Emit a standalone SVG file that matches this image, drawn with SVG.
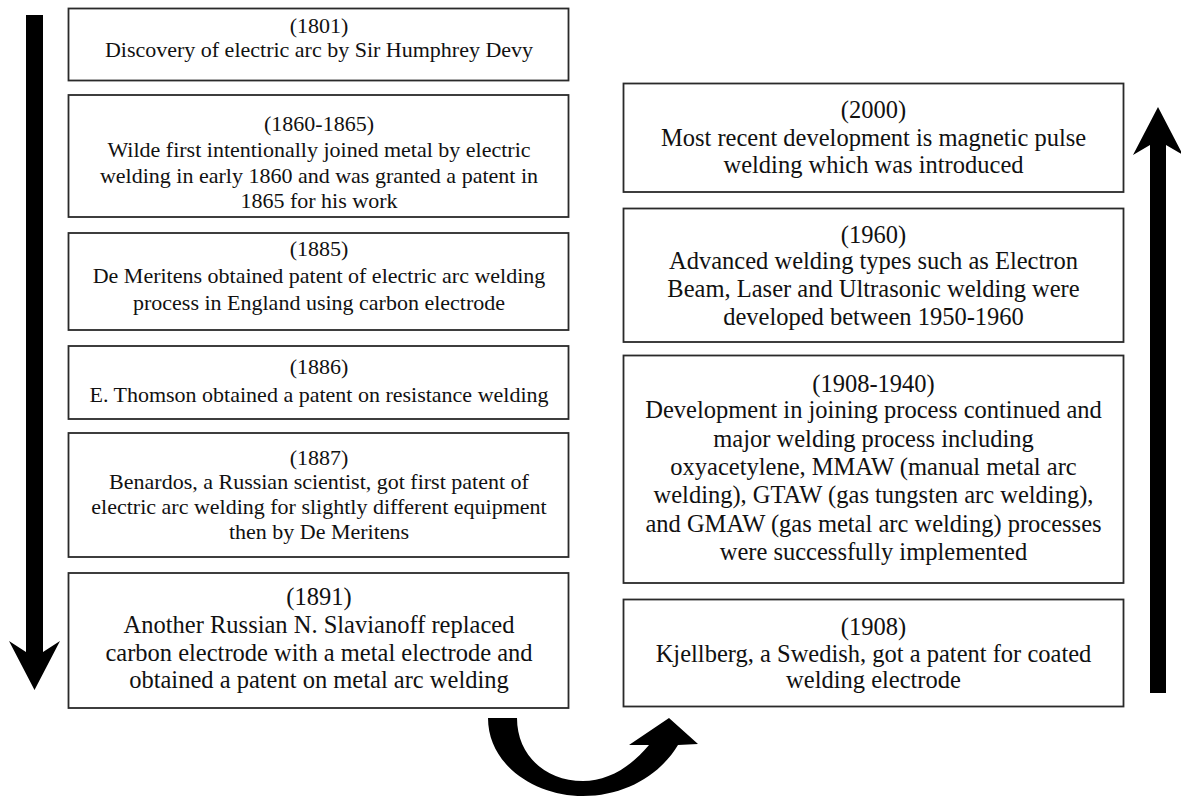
<svg xmlns="http://www.w3.org/2000/svg" width="1181" height="796" viewBox="0 0 1181 796">
<style>
.box{fill:#fff;stroke:#2a2a2a;stroke-width:1.8}
.t{font-family:'Liberation Serif','Times New Roman',Times,'DejaVu Serif',serif;fill:#111;text-anchor:middle}
.s{font-size:22px}
.b{font-size:24.5px}
.arr{fill:#000}
</style>
<rect width="1181" height="796" fill="#fff"/>
<g id="connectors">
<polygon class="arr" points="26,15 43,15 43,652 60,641 34.5,690 9,641 26,652"/>
<polygon class="arr" points="1150,693 1166,693 1166,145 1183,155 1158,107 1133,155 1150,145"/>
<path class="arr" d="M488,718 C488,765 535,796 583,796 C625,796 660,775 678,745 L698,744 L669,718 L629,745 L649,745 C630,768 607,781 583,781 C545,781 517,755 517,718 Z"/>
</g>
<g id="node-1801">
<rect class="box" x="68.5" y="8.5" width="500" height="72"/>
<text class="t s" font-family="Liberation Serif, serif"><tspan x="319" y="32.5">(1801)</tspan><tspan x="319" y="56.5">Discovery of electric arc by Sir Humphrey Devy</tspan></text>
</g>
<g id="node-1860">
<rect class="box" x="68.5" y="95" width="500" height="122"/>
<text class="t s"><tspan x="319" y="131">(1860-1865)</tspan><tspan x="319" y="157">Wilde first intentionally joined metal by electric</tspan><tspan x="319" y="183">welding in early 1860 and was granted a patent in</tspan><tspan x="319" y="208">1865 for his work</tspan></text>
</g>
<g id="node-1885">
<rect class="box" x="68.5" y="233" width="500" height="97"/>
<text class="t s"><tspan x="319" y="256">(1885)</tspan><tspan x="319" y="283">De Meritens obtained patent of electric arc welding</tspan><tspan x="319" y="310">process in England using carbon electrode</tspan></text>
</g>
<g id="node-1886">
<rect class="box" x="68.5" y="346" width="500" height="73"/>
<text class="t s"><tspan x="319" y="374">(1886)</tspan><tspan x="319" y="402">E. Thomson obtained a patent on resistance welding</tspan></text>
</g>
<g id="node-1887">
<rect class="box" x="68.5" y="433" width="500" height="124"/>
<text class="t s"><tspan x="319" y="465">(1887)</tspan><tspan x="319" y="489">Benardos, a Russian scientist, got first patent of</tspan><tspan x="319" y="514">electric arc welding for slightly different equipment</tspan><tspan x="319" y="539">then by De Meritens</tspan></text>
</g>
<g id="node-1891">
<rect class="box" x="68.5" y="573" width="500" height="135"/>
<text class="t b"><tspan x="319" y="605">(1891)</tspan><tspan x="319" y="633">Another Russian N. Slavianoff replaced</tspan><tspan x="319" y="661">carbon electrode with a metal electrode and</tspan><tspan x="319" y="688">obtained a patent on metal arc welding</tspan></text>
</g>
<g id="node-2000">
<rect class="box" x="623.5" y="83.5" width="500" height="108.5"/>
<text class="t b"><tspan x="873.5" y="118">(2000)</tspan><tspan x="873.5" y="146">Most recent development is magnetic pulse</tspan><tspan x="873.5" y="173">welding which was introduced</tspan></text>
</g>
<g id="node-1960">
<rect class="box" x="623.5" y="208.5" width="500" height="133.5"/>
<text class="t b"><tspan x="873.5" y="243">(1960)</tspan><tspan x="873.5" y="269">Advanced welding types such as Electron</tspan><tspan x="873.5" y="297">Beam, Laser and Ultrasonic welding were</tspan><tspan x="873.5" y="325">developed between 1950-1960</tspan></text>
</g>
<g id="node-1908-1940">
<rect class="box" x="623.5" y="355.5" width="500" height="227.5"/>
<text class="t b"><tspan x="873.5" y="392">(1908-1940)</tspan><tspan x="873.5" y="418">Development in joining process continued and</tspan><tspan x="873.5" y="447">major welding process including</tspan><tspan x="873.5" y="475">oxyacetylene, MMAW (manual metal arc</tspan><tspan x="873.5" y="503">welding), GTAW (gas tungsten arc welding),</tspan><tspan x="873.5" y="532">and GMAW (gas metal arc welding) processes</tspan><tspan x="873.5" y="560">were successfully implemented</tspan></text>
</g>
<g id="node-1908">
<rect class="box" x="623.5" y="599.5" width="500" height="107"/>
<text class="t b"><tspan x="873.5" y="635">(1908)</tspan><tspan x="873.5" y="662">Kjellberg, a Swedish, got a patent for coated</tspan><tspan x="873.5" y="688">welding electrode</tspan></text>
</g>
</svg>
